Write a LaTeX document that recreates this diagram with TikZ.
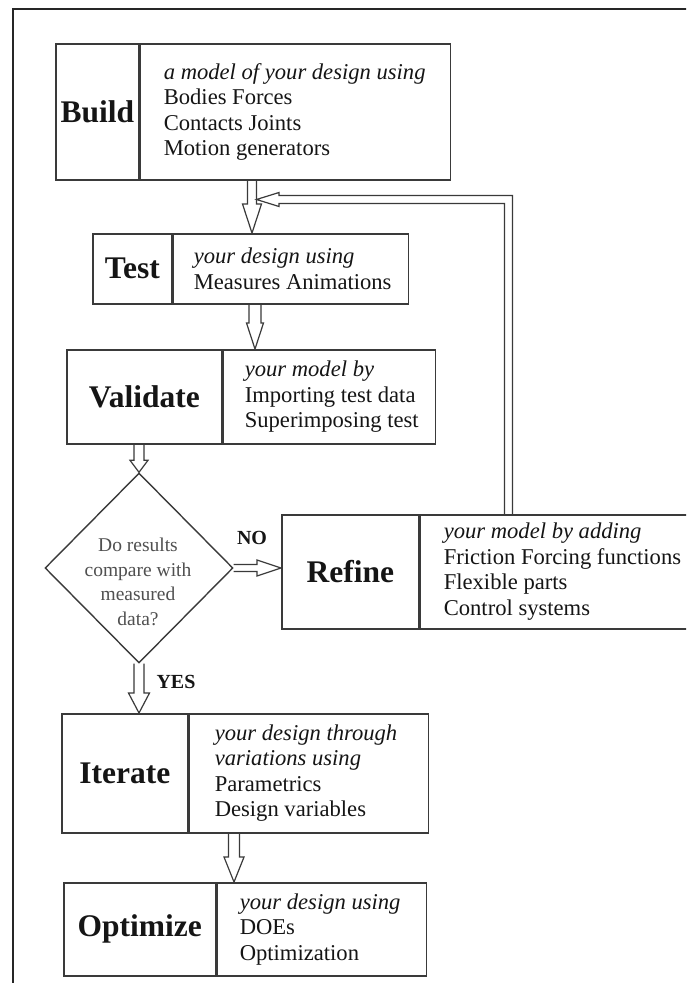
\documentclass[tikz,border=0pt]{standalone}
\usepackage{fontspec}
\setmainfont{Liberation Serif}
\usetikzlibrary{shapes.geometric,calc}
\definecolor{lc}{HTML}{3A3A3A}
\definecolor{tc}{HTML}{151515}
\definecolor{dc}{HTML}{505050}
\tikzset{
  shw/.store in=\bsw, hdw/.store in=\bhw, hdl/.store in=\bhl,
  shw=4.5pt, hdw=9.5pt, hdl=26pt,
  box/.style={draw=lc, line width=1.6pt, inner sep=0pt, anchor=north west},
  title/.style={box, font=\fontsize{31.5}{34}\selectfont\bfseries, text=tc},
  desc/.style={box},
  txt/.style={anchor=west, inner sep=0pt, align=left, font=\fontsize{22.6}{25.5}\selectfont, text=tc},
  flow/.style={draw=lc, line width=1.2pt, line join=miter},
  lab/.style={inner sep=0pt, font=\fontsize{20}{22}\selectfont\bfseries, text=tc},
  arrdown/.style={flow, to path={let \p1=(\tikztostart), \p2=(\tikztotarget) in
    (\x1-\bsw,\y1) -- (\x1-\bsw,\y2+\bhl) -- (\x1-\bhw,\y2+\bhl) -- (\x1,\y2)
    -- (\x1+\bhw,\y2+\bhl) -- (\x1+\bsw,\y2+\bhl) -- (\x1+\bsw,\y1)}},
  arrright/.style={flow, to path={let \p1=(\tikztostart), \p2=(\tikztotarget) in
    (\x1,\y1+\bsw) -- (\x2-\bhl,\y1+\bsw) -- (\x2-\bhl,\y1+\bhw) -- (\x2,\y1)
    -- (\x2-\bhl,\y1-\bhw) -- (\x2-\bhl,\y1-\bsw) -- (\x1,\y1-\bsw)}}
}
\begin{document}
\begin{tikzpicture}[x=1pt,y=-1pt]
\clip (0,0) rectangle (686,983);
\fill[white] (0,0) rectangle (686,983);
% outer frame (cropped on right and bottom)
\draw[line width=2pt, black!85] (13,1000) |- (700,9);

% Build
\node[title, minimum width=83pt, minimum height=136pt] (build) at (55,43) {Build};
\node[desc, minimum width=310pt, minimum height=136pt] (buildd) at (build.north east) {};
\node[txt] (buildt) at ([xshift=24pt]buildd.west)
  {\textit{a model of your design using}\\Bodies Forces\\Contacts Joints\\Motion generators};

% Test
\node[title, minimum width=79pt, minimum height=70pt] (test) at (92,233) {Test};
\node[desc, minimum width=235pt, minimum height=70pt] (testd) at (test.north east) {};
\node[txt] (testt) at ([xshift=21pt]testd.west)
  {\textit{your design using}\\Measures Animations};

% Validate
\node[title, minimum width=155pt, minimum height=94pt] (validate) at (66,349) {Validate};
\node[desc, minimum width=212pt, minimum height=94pt] (validated) at (validate.north east) {};
\node[txt] (validatet) at ([xshift=22pt]validated.west)
  {\textit{your model by}\\Importing test data\\Superimposing test};

% Decision
\node[draw=lc, line width=1.4pt, diamond, minimum width=188pt, minimum height=190pt, inner sep=0pt] (dia) at (139,568) {};
\node[inner sep=0pt, align=center, font=\fontsize{19.5}{24.5}\selectfont, text=dc] (ask) at (138,582)
  {Do results\\compare with\\measured\\data?};

% Refine
\node[title, minimum width=137pt, minimum height=114pt] (refine) at (281,514) {Refine};
\node[desc, minimum width=300pt, minimum height=114pt] (refined) at (refine.north east) {};
\node[txt] (refinet) at ([xshift=24pt]refined.west)
  {\textit{your model by adding}\\Friction Forcing functions\\Flexible parts\\Control systems};

% Iterate
\node[title, minimum width=126pt, minimum height=119pt] (iterate) at (61,713) {Iterate};
\node[desc, minimum width=239pt, minimum height=119pt] (iterated) at (iterate.north east) {};
\node[txt] (iteratet) at ([xshift=26pt]iterated.west)
  {\textit{your design through}\\\textit{variations using}\\Parametrics\\Design variables};

% Optimize
\node[title, minimum width=152pt, minimum height=93pt] (optimize) at (63,882) {Optimize};
\node[desc, minimum width=209pt, minimum height=93pt] (optimized) at (optimize.north east) {};
\node[txt] (optimizet) at ([xshift=23pt]optimized.west)
  {\textit{your design using}\\DOEs\\Optimization};

% labels
\node[lab] (no) at (252,538) {NO};
\node[lab] (yes) at (176,682) {YES};

% connectors
\draw[arrdown, shw=4.5pt, hdw=9.5pt, hdl=29pt] (buildd.south -| 252,0) to (testd.north -| 252,0);
\draw[arrdown, shw=6pt, hdw=8.5pt, hdl=26pt] (testd.south -| 255,0) to (validated.north -| 255,0);
\draw[arrdown, shw=5pt, hdw=9pt, hdl=12pt] (validate.south -| dia.north) to (dia.north);
\draw[arrright, shw=3.5pt, hdw=8pt, hdl=24pt] (dia.east) to (refine.west |- dia.east);
\draw[arrdown, shw=5pt, hdw=10.5pt, hdl=20pt] (dia.south) to (iterate.north -| dia.south);
\draw[arrdown, shw=5.5pt, hdw=10pt, hdl=25pt] (iterated.south -| 234,0) to (optimized.north -| 234,0);
% feedback from Refine to the Build->Test arrow
\coordinate (fbtip) at (256.5,199.5);
\draw[flow] (refined.north -| 512.5,0) |- (279,195.5) -- (279,192.5) -- (fbtip)
  -- (279,206.5) -- (279,203.5) -| (refined.north -| 504.5,0);
\end{tikzpicture}
\end{document}
